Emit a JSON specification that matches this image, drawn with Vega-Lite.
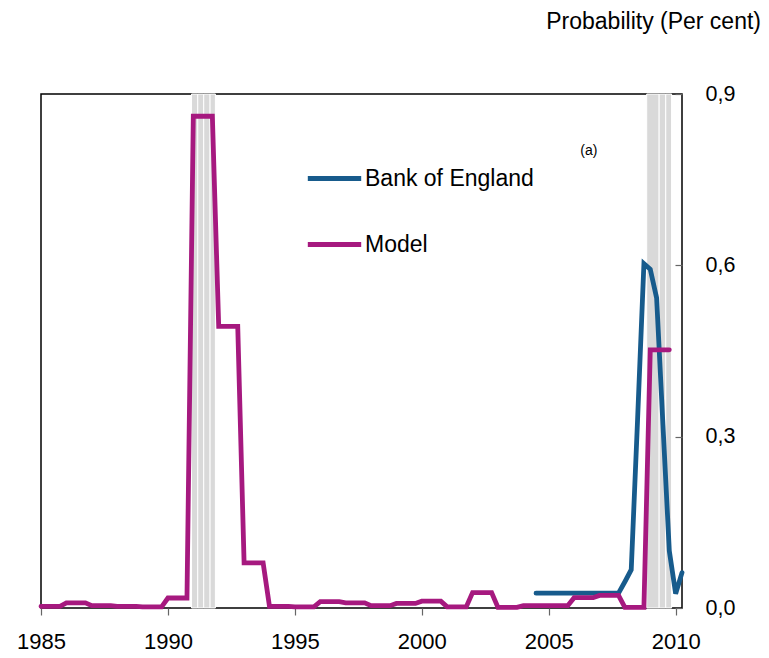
{
  "$schema": "https://vega.github.io/schema/vega-lite/v6.json",
  "width": 641,
  "height": 514,
  "autosize": {"type": "none"},
  "padding": {"left": 41, "top": 94, "right": 87, "bottom": 50},
  "background": "white",
  "config": {
    "font": "Liberation Sans",
    "view": {"stroke": "#000", "strokeWidth": 1.5}
  },
  "title": {
    "text": "Probability (Per cent)",
    "anchor": "end",
    "orient": "top",
    "frame": "group",
    "baseline": "alphabetic",
    "offset": 31,
    "dx": 79,
    "fontSize": 23,
    "fontWeight": "normal",
    "color": "#000"
  },
  "layer": [
    {
      "data": {"values": [
        {"start": 1990.93, "end": 1991.175},
        {"start": 1991.175, "end": 1991.41},
        {"start": 1991.41, "end": 1991.66},
        {"start": 1991.66, "end": 1991.87},
        {"start": 2008.86, "end": 2009.35},
        {"start": 2009.35, "end": 2009.61},
        {"start": 2009.61, "end": 2009.84}
      ]},
      "mark": {"type": "rect", "color": "#d9d9d9", "stroke": "white", "strokeWidth": 1},
      "encoding": {
        "x": {"field": "start", "type": "quantitative", "scale": {"domain": [1985, 2010.25], "nice": false, "zero": false}},
        "x2": {"field": "end"}
      }
    },
    {
      "data": {"values": [
        {"date": 2004.5, "series": "Bank of England", "value": 0.026},
        {"date": 2004.75, "series": "Bank of England", "value": 0.026},
        {"date": 2005.0, "series": "Bank of England", "value": 0.026},
        {"date": 2005.25, "series": "Bank of England", "value": 0.026},
        {"date": 2005.5, "series": "Bank of England", "value": 0.026},
        {"date": 2005.75, "series": "Bank of England", "value": 0.026},
        {"date": 2006.0, "series": "Bank of England", "value": 0.026},
        {"date": 2006.25, "series": "Bank of England", "value": 0.026},
        {"date": 2006.5, "series": "Bank of England", "value": 0.026},
        {"date": 2006.75, "series": "Bank of England", "value": 0.026},
        {"date": 2007.0, "series": "Bank of England", "value": 0.026},
        {"date": 2007.25, "series": "Bank of England", "value": 0.026},
        {"date": 2007.5, "series": "Bank of England", "value": 0.026},
        {"date": 2007.75, "series": "Bank of England", "value": 0.026},
        {"date": 2008.0, "series": "Bank of England", "value": 0.046},
        {"date": 2008.25, "series": "Bank of England", "value": 0.067},
        {"date": 2008.5, "series": "Bank of England", "value": 0.33},
        {"date": 2008.75, "series": "Bank of England", "value": 0.603},
        {"date": 2009.0, "series": "Bank of England", "value": 0.593},
        {"date": 2009.25, "series": "Bank of England", "value": 0.543},
        {"date": 2009.5, "series": "Bank of England", "value": 0.32},
        {"date": 2009.75, "series": "Bank of England", "value": 0.1},
        {"date": 2010.0, "series": "Bank of England", "value": 0.025},
        {"date": 2010.25, "series": "Bank of England", "value": 0.062},

        {"date": 1985.0, "series": "Model", "value": 0.003},
        {"date": 1985.25, "series": "Model", "value": 0.003},
        {"date": 1985.5, "series": "Model", "value": 0.003},
        {"date": 1985.75, "series": "Model", "value": 0.003},
        {"date": 1986.0, "series": "Model", "value": 0.009},
        {"date": 1986.25, "series": "Model", "value": 0.009},
        {"date": 1986.5, "series": "Model", "value": 0.009},
        {"date": 1986.75, "series": "Model", "value": 0.009},
        {"date": 1987.0, "series": "Model", "value": 0.004},
        {"date": 1987.25, "series": "Model", "value": 0.004},
        {"date": 1987.5, "series": "Model", "value": 0.004},
        {"date": 1987.75, "series": "Model", "value": 0.004},
        {"date": 1988.0, "series": "Model", "value": 0.003},
        {"date": 1988.25, "series": "Model", "value": 0.003},
        {"date": 1988.5, "series": "Model", "value": 0.003},
        {"date": 1988.75, "series": "Model", "value": 0.003},
        {"date": 1989.0, "series": "Model", "value": 0.002},
        {"date": 1989.25, "series": "Model", "value": 0.002},
        {"date": 1989.5, "series": "Model", "value": 0.002},
        {"date": 1989.75, "series": "Model", "value": 0.002},
        {"date": 1990.0, "series": "Model", "value": 0.0175},
        {"date": 1990.25, "series": "Model", "value": 0.0175},
        {"date": 1990.5, "series": "Model", "value": 0.0175},
        {"date": 1990.75, "series": "Model", "value": 0.0175},
        {"date": 1991.0, "series": "Model", "value": 0.861},
        {"date": 1991.25, "series": "Model", "value": 0.861},
        {"date": 1991.5, "series": "Model", "value": 0.861},
        {"date": 1991.75, "series": "Model", "value": 0.861},
        {"date": 1992.0, "series": "Model", "value": 0.493},
        {"date": 1992.25, "series": "Model", "value": 0.493},
        {"date": 1992.5, "series": "Model", "value": 0.493},
        {"date": 1992.75, "series": "Model", "value": 0.493},
        {"date": 1993.0, "series": "Model", "value": 0.079},
        {"date": 1993.25, "series": "Model", "value": 0.079},
        {"date": 1993.5, "series": "Model", "value": 0.079},
        {"date": 1993.75, "series": "Model", "value": 0.079},
        {"date": 1994.0, "series": "Model", "value": 0.003},
        {"date": 1994.25, "series": "Model", "value": 0.003},
        {"date": 1994.5, "series": "Model", "value": 0.003},
        {"date": 1994.75, "series": "Model", "value": 0.003},
        {"date": 1995.0, "series": "Model", "value": 0.002},
        {"date": 1995.25, "series": "Model", "value": 0.002},
        {"date": 1995.5, "series": "Model", "value": 0.002},
        {"date": 1995.75, "series": "Model", "value": 0.002},
        {"date": 1996.0, "series": "Model", "value": 0.011},
        {"date": 1996.25, "series": "Model", "value": 0.011},
        {"date": 1996.5, "series": "Model", "value": 0.011},
        {"date": 1996.75, "series": "Model", "value": 0.011},
        {"date": 1997.0, "series": "Model", "value": 0.009},
        {"date": 1997.25, "series": "Model", "value": 0.009},
        {"date": 1997.5, "series": "Model", "value": 0.009},
        {"date": 1997.75, "series": "Model", "value": 0.009},
        {"date": 1998.0, "series": "Model", "value": 0.004},
        {"date": 1998.25, "series": "Model", "value": 0.004},
        {"date": 1998.5, "series": "Model", "value": 0.004},
        {"date": 1998.75, "series": "Model", "value": 0.004},
        {"date": 1999.0, "series": "Model", "value": 0.008},
        {"date": 1999.25, "series": "Model", "value": 0.008},
        {"date": 1999.5, "series": "Model", "value": 0.008},
        {"date": 1999.75, "series": "Model", "value": 0.008},
        {"date": 2000.0, "series": "Model", "value": 0.012},
        {"date": 2000.25, "series": "Model", "value": 0.012},
        {"date": 2000.5, "series": "Model", "value": 0.012},
        {"date": 2000.75, "series": "Model", "value": 0.012},
        {"date": 2001.0, "series": "Model", "value": 0.002},
        {"date": 2001.25, "series": "Model", "value": 0.002},
        {"date": 2001.5, "series": "Model", "value": 0.002},
        {"date": 2001.75, "series": "Model", "value": 0.002},
        {"date": 2002.0, "series": "Model", "value": 0.027},
        {"date": 2002.25, "series": "Model", "value": 0.027},
        {"date": 2002.5, "series": "Model", "value": 0.027},
        {"date": 2002.75, "series": "Model", "value": 0.027},
        {"date": 2003.0, "series": "Model", "value": 0.001},
        {"date": 2003.25, "series": "Model", "value": 0.001},
        {"date": 2003.5, "series": "Model", "value": 0.001},
        {"date": 2003.75, "series": "Model", "value": 0.001},
        {"date": 2004.0, "series": "Model", "value": 0.004},
        {"date": 2004.25, "series": "Model", "value": 0.004},
        {"date": 2004.5, "series": "Model", "value": 0.004},
        {"date": 2004.75, "series": "Model", "value": 0.004},
        {"date": 2005.0, "series": "Model", "value": 0.004},
        {"date": 2005.25, "series": "Model", "value": 0.004},
        {"date": 2005.5, "series": "Model", "value": 0.004},
        {"date": 2005.75, "series": "Model", "value": 0.004},
        {"date": 2006.0, "series": "Model", "value": 0.018},
        {"date": 2006.25, "series": "Model", "value": 0.018},
        {"date": 2006.5, "series": "Model", "value": 0.018},
        {"date": 2006.75, "series": "Model", "value": 0.018},
        {"date": 2007.0, "series": "Model", "value": 0.022},
        {"date": 2007.25, "series": "Model", "value": 0.022},
        {"date": 2007.5, "series": "Model", "value": 0.022},
        {"date": 2007.75, "series": "Model", "value": 0.022},
        {"date": 2008.0, "series": "Model", "value": 0.001},
        {"date": 2008.25, "series": "Model", "value": 0.001},
        {"date": 2008.5, "series": "Model", "value": 0.001},
        {"date": 2008.75, "series": "Model", "value": 0.001},
        {"date": 2009.0, "series": "Model", "value": 0.452},
        {"date": 2009.25, "series": "Model", "value": 0.452},
        {"date": 2009.5, "series": "Model", "value": 0.452},
        {"date": 2009.75, "series": "Model", "value": 0.452}
      ]},
      "mark": {"type": "line", "strokeWidth": 4.8, "strokeCap": "round"},
      "encoding": {
        "x": {
          "field": "date", "type": "quantitative",
          "scale": {"domain": [1985, 2010.25], "nice": false, "zero": false},
          "axis": {
            "orient": "bottom", "values": [1985, 1990, 1995, 2000, 2005, 2010], "format": "d",
            "labelFontSize": 22, "labelColor": "#000", "tickSize": 7, "tickColor": "#666", "tickWidth": 1.2,
            "domain": false, "grid": false, "title": null, "labelPadding": 16, "labelFlush": false, "labelOverlap": false
          }
        },
        "y": {
          "field": "value", "type": "quantitative",
          "scale": {"domain": [0, 0.9], "nice": false},
          "axis": {
            "orient": "right", "values": [0, 0.3, 0.6, 0.9],
            "labelExpr": "replace(format(datum.value, '.1f'), '.', ',')",
            "labelFontSize": 21.5, "labelColor": "#000", "tickSize": -7, "tickColor": "#666", "tickWidth": 1.2,
            "domain": false, "grid": false, "title": null, "labelPadding": 30
          }
        },
        "color": {
          "field": "series", "type": "nominal",
          "scale": {"domain": ["Bank of England", "Model"], "range": ["#175b8c", "#a6197f"]},
          "legend": {
            "orient": "none", "legendX": 264, "legendY": 55, "direction": "vertical",
            "title": null, "symbolType": "stroke", "symbolSize": 2850, "symbolStrokeWidth": 4.8,
            "labelFontSize": 23, "labelOffset": 1, "labelLimit": 0, "rowPadding": 24, "padding": 0, "labelColor": "#000"
          }
        }
      }
    },
    {
      "data": {"values": [{"note": "(a)"}]},
      "mark": {"type": "text", "fontSize": 14, "color": "#000"},
      "encoding": {
        "x": {"datum": 2006.58, "type": "quantitative"},
        "y": {"datum": 0.80, "type": "quantitative"},
        "text": {"field": "note"}
      }
    }
  ]
}
